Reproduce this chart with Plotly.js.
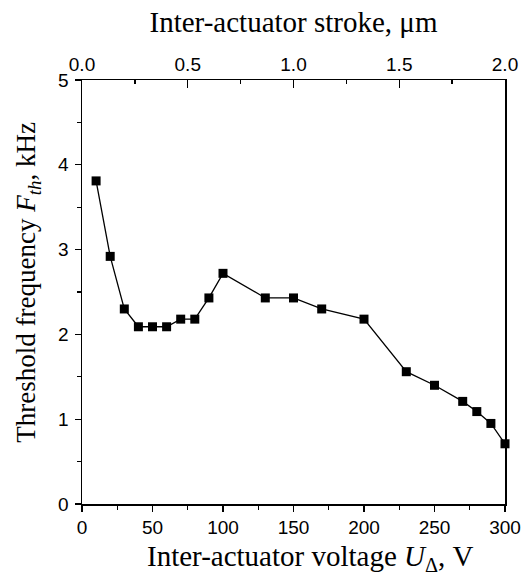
<!DOCTYPE html>
<html>
<head>
<meta charset="utf-8">
<script src="https://cdn.plot.ly/plotly-3.0.1.min.js"></script>
<style>html,body{margin:0;padding:0;background:#fff;}#plot{width:526px;height:576px;}</style>
</head>
<body>
<div id="plot"></div>
<script>
var voltage = [10, 20, 30, 40, 50, 60, 70, 80, 90, 100, 130, 150, 170, 200, 230, 250, 270, 280, 290, 300];
var frequency = [3.81, 2.92, 2.30, 2.09, 2.09, 2.09, 2.18, 2.18, 2.43, 2.72, 2.43, 2.43, 2.30, 2.18, 1.56, 1.40, 1.21, 1.09, 0.95, 0.71];
var strokeRange = [0, 2];

var tickFont = {family: 'Liberation Sans, Arial, sans-serif', size: 19, color: '#000'};
var xTitleFont = {family: 'Liberation Serif, Times New Roman, serif', size: 29, color: '#000'};
var yTitleFont = {family: 'Liberation Serif, Times New Roman, serif', size: 27, color: '#000'};

var traces = [
  {
    x: voltage, y: frequency, type: 'scatter', mode: 'lines+markers',
    line: {color: '#000', width: 1.3},
    marker: {symbol: 'square', size: 9, color: '#000'},
    cliponaxis: false, hoverinfo: 'none'
  },
  {
    x: strokeRange, y: [null, null], xaxis: 'x2', type: 'scatter', mode: 'markers',
    showlegend: false, hoverinfo: 'none'
  }
];

var layout = {
  width: 526, height: 576,
  margin: {l: 82, r: 21, t: 80, b: 72},
  showlegend: false,
  paper_bgcolor: '#fff', plot_bgcolor: '#fff',
  xaxis: {
    range: [0, 300], tick0: 0, dtick: 50,
    ticks: 'outside', ticklen: 6, tickwidth: 1.3, tickcolor: '#000',
    minor: {dtick: 25, ticks: 'outside', ticklen: 4, tickwidth: 1.3, tickcolor: '#000'},
    showline: true, linecolor: '#000', linewidth: 1.5,
    showgrid: false, zeroline: false,
    tickfont: tickFont, ticklabelstandoff: 0
  },
  xaxis2: {
    overlaying: 'x', side: 'top', anchor: 'y',
    range: [0, 2], tick0: 0, dtick: 0.5, tickformat: '.1f',
    ticks: 'inside', ticklen: 8, tickwidth: 1.3, tickcolor: '#000',
    minor: {dtick: 0.25, ticks: 'inside', ticklen: 4, tickwidth: 1.3, tickcolor: '#000'},
    showline: true, linecolor: '#000', linewidth: 1.5,
    showgrid: false, zeroline: false,
    tickfont: tickFont, ticklabelstandoff: 0,
    title: {text: 'Inter-actuator stroke, μm', font: xTitleFont, standoff: 13}
  },
  yaxis: {
    range: [0, 5], tick0: 0, dtick: 1,
    ticks: 'outside', ticklen: 6, tickwidth: 1.3, tickcolor: '#000',
    minor: {dtick: 0.5, ticks: 'outside', ticklen: 4, tickwidth: 1.3, tickcolor: '#000'},
    showline: true, linecolor: '#000', linewidth: 1.5,
    mirror: true,
    showgrid: false, zeroline: false,
    tickfont: tickFont, ticklabelstandoff: 2
  },
  annotations: [
    {
      text: 'Inter-actuator voltage <i>U</i><sub>Δ</sub>, V',
      font: xTitleFont,
      xref: 'paper', yref: 'paper', x: 0.541, y: -0.127,
      xanchor: 'center', yanchor: 'middle', showarrow: false
    },
    {
      text: 'Threshold frequency <i>F</i><sub><i>th</i></sub>, kHz',
      font: yTitleFont, textangle: -90,
      xref: 'paper', yref: 'paper', x: -0.128, y: 0.524,
      xanchor: 'center', yanchor: 'middle', showarrow: false
    }
  ]
};

Plotly.newPlot('plot', traces, layout, {displayModeBar: false, staticPlot: true});
</script>
</body>
</html>
